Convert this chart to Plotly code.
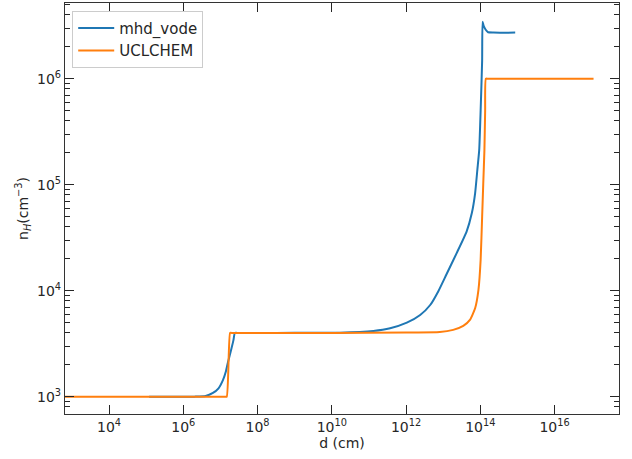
import plotly.graph_objects as go

# mhd_vode series
mhd_d = [1.2e5, 1.0e6, 2.0e6, 4.0e6, 6.3e6, 8.9e6, 1.17e7, 1.41e7, 1.58e7, 1.78e7,
         2.0e7, 2.24e7, 2.45e7, 2.8e7, 1.0e8, 1.0e9, 1.66e10, 1.32e11, 3.72e11, 1.05e12,
         2.40e12, 4.47e12, 7.41e12, 1.23e13, 2.29e13, 4.27e13, 5.89e13, 7.24e13,
         8.32e13, 9.33e13, 1.02e14, 1.12e14, 1.15e14, 1.23e14, 1.32e14, 1.48e14,
         1.62e14, 2.24e14, 8.7e14]
mhd_n = [1000, 1000, 1002, 1015, 1085, 1200, 1435, 1740, 2080, 2450,
         2880, 3400, 4000, 4000, 4000, 4005, 4020, 4170, 4420, 4990,
         5900, 7330, 9900, 14300, 22500, 36100, 53700, 83000,
         138000, 212000, 500000, 1.48e6, 3.45e6, 3.15e6, 2.99e6, 2.82e6,
         2.74e6, 2.72e6, 2.72e6]

# UCLCHEM series
ucl_d = [5e2, 1.3e7, 1.48e7, 1.82e7, 2.0e7, 1.0e10, 1.0e12, 8.13e12, 1.86e13, 3.47e13,
         5.25e13, 7.24e13, 8.91e13, 1.02e14, 1.12e14, 1.20e14, 1.29e14, 1.35e14,
         1.41e14, 1.6e14, 1.12e17]
ucl_n = [1000, 1000, 1000, 4000, 4000, 4000, 4030, 4070, 4270, 4650,
         5300, 6820, 10200, 19500, 49900, 102000, 212000, 5.0e5,
         1.0e6, 1.0e6, 1.0e6]

x_tick_vals = [1e4, 1e6, 1e8, 1e10, 1e12, 1e14, 1e16]
x_tick_text = ["10<sup>4</sup>", "10<sup>6</sup>", "10<sup>8</sup>", "10<sup>10</sup>",
               "10<sup>12</sup>", "10<sup>14</sup>", "10<sup>16</sup>"]
y_tick_vals = [1e3, 1e4, 1e5, 1e6]
y_tick_text = ["10<sup>3</sup>", "10<sup>4</sup>", "10<sup>5</sup>", "10<sup>6</sup>"]
y_minor_vals = [m * 10 ** e for e in range(2, 7) for m in range(2, 10)]

fig = go.Figure()
fig.add_trace(go.Scatter(x=mhd_d, y=mhd_n, mode="lines", name="mhd_vode",
                         line=dict(color="#1f77b4", width=2, shape="spline", smoothing=0.5)))
fig.add_trace(go.Scatter(x=ucl_d, y=ucl_n, mode="lines", name="UCLCHEM",
                         line=dict(color="#ff7f0e", width=2, shape="spline", smoothing=0.5)))

axis_common = dict(
    showgrid=False, zeroline=False, showline=True, linecolor="#333333", linewidth=1.2,
    mirror="ticks", ticks="inside", tickcolor="#262626", tickwidth=1.2, ticklen=9,
    tickfont=dict(family="DejaVu Sans", size=14, color="#262626"),
)

fig.update_xaxes(type="log", range=[2.815, 17.735], tickmode="array",
                 tickvals=x_tick_vals, ticktext=x_tick_text,
                 title=dict(text="d (cm)", font=dict(family="DejaVu Sans", size=14, color="#262626"),
                            standoff=4),
                 **axis_common)
fig.update_yaxes(type="log", range=[2.837, 6.714], tickmode="array",
                 tickvals=y_tick_vals, ticktext=y_tick_text,
                 minor=dict(tickmode="array", tickvals=y_minor_vals, ticks="inside",
                            ticklen=5, tickcolor="#262626", tickwidth=1, showgrid=False),
                 title=dict(text="n<sub><i>H</i></sub>(cm<sup>−3</sup>)",
                            font=dict(family="DejaVu Sans", size=14, color="#262626"),
                            standoff=5),
                 **axis_common)

fig.update_layout(
    width=632, height=459,
    margin=dict(l=65, r=13, t=3, b=45),
    paper_bgcolor="white", plot_bgcolor="white",
    font=dict(family="DejaVu Sans", size=14, color="#262626"),
    showlegend=True,
    legend=dict(x=0.013, y=0.981, xanchor="left", yanchor="top",
                bgcolor="rgba(255,255,255,0.8)", bordercolor="#cccccc", borderwidth=1,
                font=dict(family="DejaVu Sans", size=15, color="#262626"),
                itemwidth=36, tracegroupgap=0),
)

fig.write_html("out.html")
